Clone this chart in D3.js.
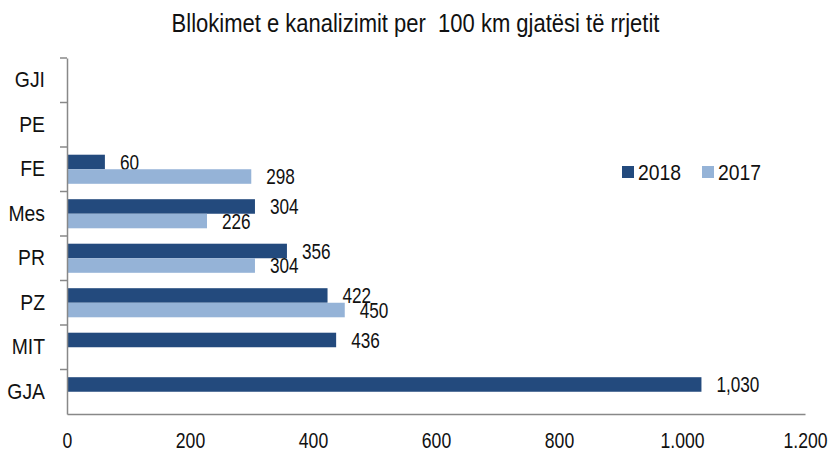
<!DOCTYPE html>
<html>
<head>
<meta charset="utf-8">
<script src="https://cdn.jsdelivr.net/npm/d3@7"></script>
<style>
  body { margin: 0; background: #fff; }
  text { font-family: "Liberation Sans", Arial, sans-serif; fill: #111; }
</style>
</head>
<body>
<svg id="chart"></svg>
<script>
var categories = ["GJI", "PE", "FE", "Mes", "PR", "PZ", "MIT", "GJA"];
var seriesNames = ["2018", "2017"];
var values2018 = [null, null, 60, 304, 356, 422, 436, 1030];
var values2017 = [null, null, 298, 226, 304, 450, null, null];
var xTicks = [0, 200, 400, 600, 800, 1000, 1200];
var title = "Bllokimet e kanalizimit per  100 km gjatësi të rrjetit";

var colors = { "2018": "#234a7d", "2017": "#95b3d7" };

var size = { width: 831, height: 452, margin: { top: 58, right: 26, bottom: 38, left: 67 } };
var margin = size.margin;
var width = size.width - margin.left - margin.right;
var height = size.height - margin.top - margin.bottom;

var data = categories.map((c, i) => ({
  name: c,
  values: [
    { series: "2018", value: values2018[i] },
    { series: "2017", value: values2017[i] }
  ]
}));

var dotLocale = d3.formatLocale({ decimal: ",", thousands: ".", grouping: [3], currency: ["", ""] });

// squeeze text horizontally to mimic the narrow font of the original
var narrow = (sel, k) => {
  sel.each(function() {
    var w = this.getComputedTextLength();
    d3.select(this)
      .attr('textLength', w * k)
      .attr('lengthAdjust', 'spacingAndGlyphs');
  });
};

var x = d3.scaleLinear()
  .domain([0, 1200])
  .range([0, width]);

var y = d3.scaleBand()
  .domain(categories)
  .range([0, height])
  .padding(0);

var ySeries = d3.scaleBand()
  .domain(seriesNames)
  .range([0, y.bandwidth()])
  .paddingInner(0)
  .paddingOuter(0.53);

var svg = d3.select('#chart')
  .attr('width', size.width)
  .attr('height', size.height);

svg.append('text')
  .attr('x', size.width / 2)
  .attr('y', 32)
  .attr('text-anchor', 'middle')
  .style('font-size', '25px')
  .style('white-space', 'pre')
  .text(title)
  .call(narrow, 0.88);

var chart = svg.append('g')
  .attr('transform', `translate(${ margin.left }, ${ margin.top })`);

var groups = chart.selectAll('.group')
  .data(data)
  .enter().append('g')
    .attr('class', 'group')
    .attr('transform', d => `translate(0, ${ y(d.name) })`);

var items = groups.selectAll('.item')
  .data(d => d.values.filter(v => v.value != null))
  .enter().append('g')
    .attr('class', 'item');

items.append('rect')
  .attr('x', x(0) + 1)
  .attr('y', d => ySeries(d.series))
  .attr('width', d => x(d.value) - x(0))
  .attr('height', ySeries.bandwidth())
  .attr('fill', d => colors[d.series]);

items.append('text')
  .attr('x', d => x(d.value) + 16)
  .attr('y', d => ySeries(d.series) + ySeries.bandwidth() / 2)
  .attr('dy', '0.36em')
  .style('font-size', '22px')
  .text(d => d3.format(',')(d.value))
  .call(narrow, 0.78);

var xAxis = d3.axisBottom(x)
  .tickValues(xTicks)
  .tickSize(0)
  .tickPadding(18)
  .tickFormat(dotLocale.format(','));

var yAxis = d3.axisLeft(y)
  .tickSize(0)
  .tickPadding(22);

var gx = chart.append('g')
  .attr('class', 'axis x')
  .attr('transform', `translate(0, ${ height })`)
  .call(xAxis);

var gy = chart.append('g')
  .attr('class', 'axis y')
  .call(yAxis);

// category divider ticks on the y axis
gy.selectAll('.divider')
  .data(categories)
  .enter().append('line')
    .attr('class', 'divider')
    .attr('x1', -7)
    .attr('x2', 0)
    .attr('y1', d => y(d))
    .attr('y2', d => y(d))
    .attr('stroke', '#888')
    .attr('stroke-width', 1.5);

gx.select('.domain').attr('stroke', '#888').attr('stroke-width', 1.5);
gy.select('.domain').attr('stroke', '#888').attr('stroke-width', 1.5);
gx.selectAll('.tick text')
  .style('font-size', '22px')
  .attr('fill', '#111')
  .call(narrow, 0.8);
gy.selectAll('.tick text')
  .style('font-size', '22px')
  .attr('fill', '#111')
  .call(narrow, 0.88);

var legend = svg.append('g')
  .attr('transform', 'translate(622, 166)');

var legendItem = legend.selectAll('.legend-item')
  .data(seriesNames)
  .enter().append('g')
    .attr('class', 'legend-item')
    .attr('transform', (d, i) => `translate(${ i * 80 }, 0)`);

legendItem.append('rect')
  .attr('width', 12)
  .attr('height', 12)
  .attr('fill', d => colors[d]);

legendItem.append('text')
  .attr('x', 16)
  .attr('y', 6)
  .attr('dy', '0.36em')
  .style('font-size', '22px')
  .text(d => d)
  .call(narrow, 0.88);
</script>
</body>
</html>
